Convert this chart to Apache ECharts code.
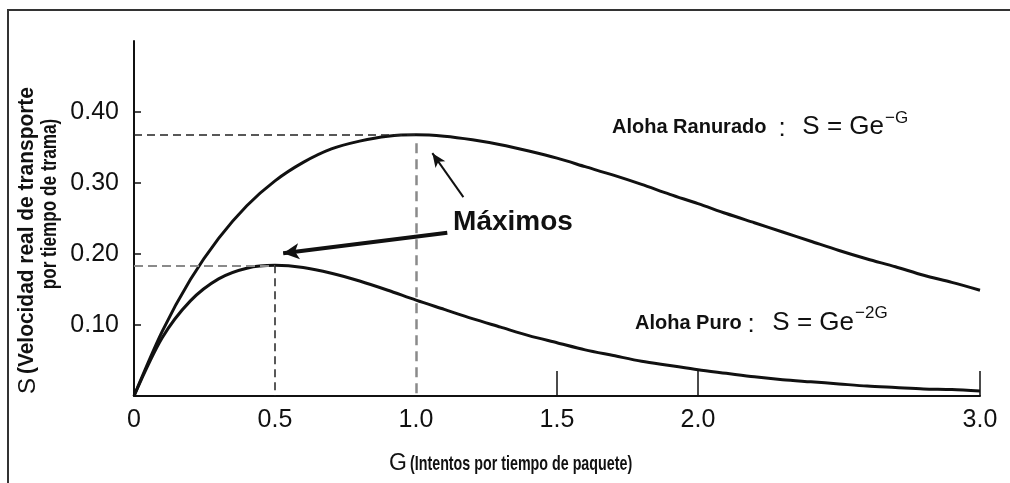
<!DOCTYPE html>
<html>
<head>
<meta charset="utf-8">
<script src="https://cdn.jsdelivr.net/npm/echarts@6/dist/echarts.min.js"></script>
<style>
  html, body { margin: 0; padding: 0; background: #fff; }
  #chart { width: 1010px; height: 483px; }
</style>
</head>
<body>
<div id="chart"></div>
<script>
// G values (intentos por tiempo de paquete)
const gValues = [0, 0.1, 0.2, 0.3, 0.4, 0.5, 0.6, 0.7, 0.8, 0.9, 1.0, 1.1, 1.2, 1.3, 1.4, 1.5,
  1.6, 1.7, 1.8, 1.9, 2.0, 2.1, 2.2, 2.3, 2.4, 2.5, 2.6, 2.7, 2.8, 2.9, 3.0];
// Aloha ranurado
const slottedS = [0, 0.091, 0.164, 0.222, 0.268, 0.303, 0.329, 0.348, 0.359, 0.366, 0.368, 0.366,
  0.361, 0.354, 0.345, 0.335, 0.323, 0.311, 0.298, 0.284, 0.271, 0.257, 0.244, 0.231, 0.218,
  0.205, 0.193, 0.182, 0.170, 0.160, 0.149];
// Aloha puro
const pureS = [0, 0.082, 0.134, 0.165, 0.180, 0.184, 0.181, 0.173, 0.162, 0.149, 0.135, 0.122,
  0.109, 0.097, 0.085, 0.075, 0.065, 0.057, 0.049, 0.043, 0.037, 0.032, 0.027, 0.023, 0.020,
  0.017, 0.014, 0.012, 0.010, 0.009, 0.007];

const xLabelValues = [0, 0.5, 1, 1.5, 2, 3];
const xTickValues = [1.5, 2, 3];
const yLabelValues = [0.1, 0.2, 0.3, 0.4];

const slottedPeak = [1.0, 0.368];
const purePeak = [0.5, 0.184];
// flechas "Máximos" (cola, punta)
const arrowThin = [[1.168, 0.280], [1.058, 0.342]];
const arrowThick = [[1.111, 0.230], [0.529, 0.201]];

const sans = '"Liberation Sans", Arial, Helvetica, sans-serif';

const chart = echarts.init(document.getElementById('chart'));

const txt = (x, y, text, font, align, vAlign, extra) => Object.assign({
  type: 'text',
  x: x,
  y: y,
  silent: true,
  style: {
    text: text,
    font: font,
    fill: '#111',
    align: align,
    textAlign: align,
    verticalAlign: vAlign,
    textVerticalAlign: vAlign,
  },
}, extra || {});

const option = {
  animation: false,
  backgroundColor: '#fff',
  grid: {
    left: 134,
    right: 30,
    top: 41,
    bottom: 87,
    containLabel: false,
  },
  xAxis: {
    type: 'value',
    min: 0,
    max: 3,
    interval: 0.5,
    axisLine: { lineStyle: { color: '#111', width: 2 } },
    axisTick: {
      show: true,
      inside: true,
      length: 25,
      customValues: xTickValues,
      lineStyle: { color: '#111', width: 1.5 },
    },
    axisLabel: {
      customValues: xLabelValues,
      margin: 12,
      color: '#111',
      fontFamily: sans,
      fontSize: 25,
      formatter: (v) => (v === 0 ? '0' : v.toFixed(1)),
    },
    splitLine: { show: false },
  },
  yAxis: {
    type: 'value',
    min: 0,
    max: 0.5,
    interval: 0.1,
    axisLine: { show: true, lineStyle: { color: '#111', width: 2 } },
    axisTick: {
      show: true,
      inside: true,
      length: 7,
      customValues: yLabelValues,
      lineStyle: { color: '#111', width: 1.5 },
    },
    axisLabel: {
      customValues: yLabelValues,
      margin: 15,
      color: '#111',
      fontFamily: sans,
      fontSize: 25,
      formatter: (v) => v.toFixed(2),
    },
    splitLine: { show: false },
  },
  series: [
    {
      name: 'Aloha Ranurado',
      type: 'line',
      smooth: 0.3,
      showSymbol: false,
      lineStyle: { color: '#111', width: 3 },
      data: gValues.map((g, i) => [g, slottedS[i]]),
      markLine: {
        silent: true,
        symbol: 'none',
        label: { show: false },
        data: [
          [
            { coord: [0, slottedPeak[1]], lineStyle: { color: '#222', width: 1.5, type: [8, 5] } },
            { coord: slottedPeak },
          ],
          [
            { coord: [slottedPeak[0], slottedPeak[1] - 0.012], lineStyle: { color: '#8a8a8a', width: 2.5, type: [10, 6] } },
            { coord: [slottedPeak[0], 0] },
          ],
        ],
      },
    },
    {
      name: 'Aloha Puro',
      type: 'line',
      smooth: 0.3,
      showSymbol: false,
      lineStyle: { color: '#111', width: 3 },
      data: gValues.map((g, i) => [g, pureS[i]]),
      markLine: {
        silent: true,
        symbol: 'none',
        label: { show: false },
        data: [
          [
            { coord: [0, purePeak[1]], lineStyle: { color: '#8a8a8a', width: 2, type: [9, 5] } },
            { coord: purePeak },
          ],
          [
            { coord: purePeak, lineStyle: { color: '#222', width: 1.5, type: [8, 5] } },
            { coord: [purePeak[0], 0] },
          ],
        ],
      },
    },
    {
      name: 'flechas',
      type: 'line',
      data: [],
      markLine: {
        silent: true,
        label: { show: false },
        data: [
          [
            { coord: arrowThin[0], symbol: 'none', lineStyle: { color: '#111', width: 2, type: 'solid' } },
            { coord: arrowThin[1], symbol: 'arrow', symbolSize: [9, 14] },
          ],
          [
            { coord: arrowThick[0], symbol: 'none', lineStyle: { color: '#111', width: 4, type: 'solid' } },
            { coord: arrowThick[1], symbol: 'arrow', symbolSize: [12, 16] },
          ],
        ],
      },
    },
  ],
  graphic: [
    // marco
    {
      type: 'rect',
      silent: true,
      shape: { x: 8, y: 10, width: 1100, height: 600 },
      style: { fill: 'none', stroke: '#333', lineWidth: 2 },
    },
    txt(513, 222, 'Máximos', 'bold 28px ' + sans, 'center', 'middle'),
    // Aloha Ranurado
    txt(612, 127, 'Aloha Ranurado', 'bold 20px ' + sans, 'left', 'middle'),
    txt(782, 129, ':', '26px ' + sans, 'center', 'middle'),
    txt(884, 127, 'S = Ge', '26px ' + sans, 'right', 'middle'),
    txt(885, 118, '\u2212G', '17px ' + sans, 'left', 'middle'),
    // Aloha Puro
    txt(635, 323, 'Aloha Puro', 'bold 20px ' + sans, 'left', 'middle'),
    txt(751, 325, ':', '26px ' + sans, 'center', 'middle'),
    txt(854, 323, 'S = Ge', '26px ' + sans, 'right', 'middle'),
    txt(855, 313, '\u22122G', '17px ' + sans, 'left', 'middle'),
    // eje x
    txt(398, 464, 'G', '23px ' + sans, 'center', 'middle'),
    txt(410, 464, '(Intentos por tiempo de paquete)', 'bold 21px ' + sans, 'left', 'middle', { scaleX: 0.68 }),
    // eje y
    txt(28, 386, 'S', '24px ' + sans, 'center', 'middle', { rotation: Math.PI / 2 }),
    txt(27, 374, '(Velocidad real de transporte', 'bold 22px ' + sans, 'left', 'middle', { rotation: Math.PI / 2, scaleX: 0.95 }),
    txt(50, 204, 'por tiempo de trama)', 'bold 22px ' + sans, 'center', 'middle', { rotation: Math.PI / 2, scaleX: 0.78 }),
  ],
};

chart.setOption(option);
</script>
</body>
</html>
